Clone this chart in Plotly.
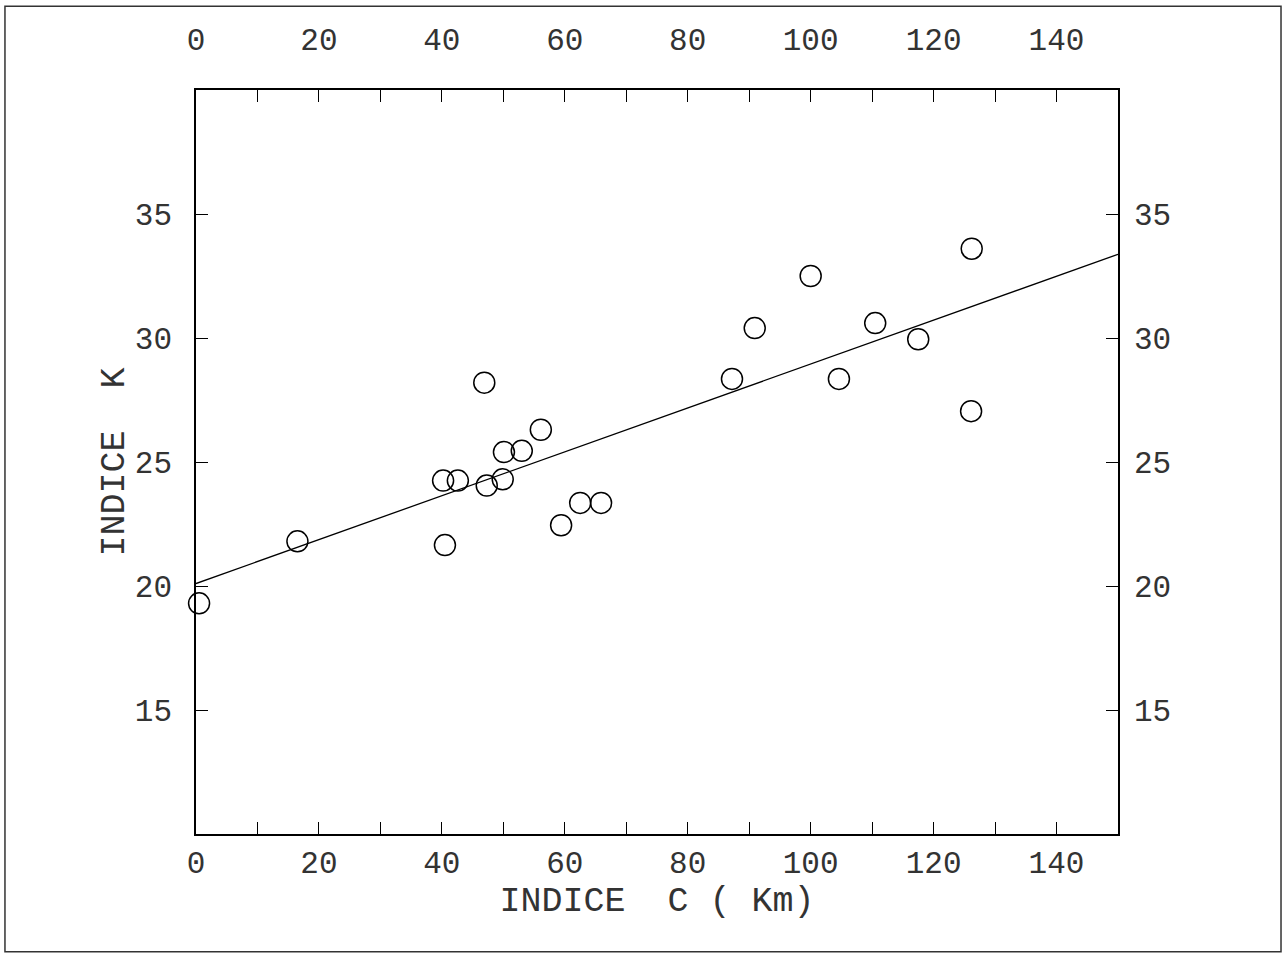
import plotly.graph_objects as go

# Indice C (km) vs Indice K observations
indice_c = [0.5, 16.5, 40.2, 42.6, 40.5, 46.9, 47.3, 49.9, 50.1, 53.0, 56.1,
            59.4, 62.5, 65.9, 87.2, 90.9, 100.0, 104.6, 110.5, 117.5, 126.2, 126.1]
indice_k = [19.3, 21.8, 24.25, 24.25, 21.65, 28.2, 24.05, 24.3, 25.4, 25.45, 26.3,
            22.45, 23.35, 23.35, 28.35, 30.4, 32.5, 28.35, 30.6, 29.95, 33.6, 27.05]

# Linear regression line K = a + b*C
fit_intercept = 20.1
fit_slope = 0.0885
fit_c = [0, 150]
fit_k = [fit_intercept + fit_slope * c for c in fit_c]

x_range = [0, 150]
y_range = [10, 40]
x_labels = [0, 20, 40, 60, 80, 100, 120, 140]
y_labels = [15, 20, 25, 30, 35]

FONT = "Liberation Mono"
INK = "#333333"

fig = go.Figure()
fig.add_trace(go.Scatter(x=fit_c, y=fit_k, mode="lines",
                         line=dict(color="black", width=1.3),
                         hoverinfo="skip", showlegend=False))
fig.add_trace(go.Scatter(x=indice_c, y=indice_k, mode="markers",
                         marker=dict(symbol="circle-open", size=21,
                                     color="black", line=dict(width=1.5)),
                         showlegend=False, cliponaxis=False))
# companion trace so the top / right axes are rendered
fig.add_trace(go.Scatter(x=fit_c, y=fit_k, xaxis="x2", yaxis="y2",
                         mode="lines", line=dict(width=0), opacity=0,
                         hoverinfo="skip", showlegend=False))

tick_font = dict(family=FONT, size=31, color=INK)
common_x = dict(range=x_range, tickvals=x_labels, ticks="inside", ticklen=12,
                tickwidth=1.3, tickcolor="black",
                minor=dict(dtick=10, tick0=0, ticks="inside", ticklen=12,
                           tickwidth=1.3, tickcolor="black"),
                showgrid=False, zeroline=False, showline=True,
                linecolor="black", linewidth=1.5, tickfont=tick_font)
common_y = dict(range=y_range, tickvals=y_labels, ticks="inside", ticklen=12,
                tickwidth=1.3, tickcolor="black", showgrid=False,
                zeroline=False, showline=True, linecolor="black",
                linewidth=1.5, tickfont=tick_font)

fig.update_layout(
    width=1285, height=955,
    margin=dict(l=196, r=167, t=90, b=121),
    paper_bgcolor="white", plot_bgcolor="white",
    xaxis=dict(**common_x, side="bottom", ticklabelstandoff=0,
               title=dict(text="INDICE\u00a0\u00a0C\u00a0(\u00a0Km)",
                          font=dict(family=FONT, size=35, color=INK),
                          standoff=0)),
    xaxis2=dict(**common_x, side="top", overlaying="x", anchor="y",
                ticklabelstandoff=26),
    yaxis=dict(**common_y, side="left", ticklabelstandoff=16,
               title=dict(text="INDICE\u00a0\u00a0K",
                          font=dict(family=FONT, size=35, color=INK),
                          standoff=0)),
    yaxis2=dict(**common_y, side="right", overlaying="y", anchor="x",
                ticklabelstandoff=8),
    shapes=[dict(type="rect", xref="paper", yref="paper",
                 x0=-0.2072, x1=1.1768, y0=-0.1582, y1=1.1126,
                 line=dict(color="#333333", width=1.5))],
)

fig.write_html("out.html")
